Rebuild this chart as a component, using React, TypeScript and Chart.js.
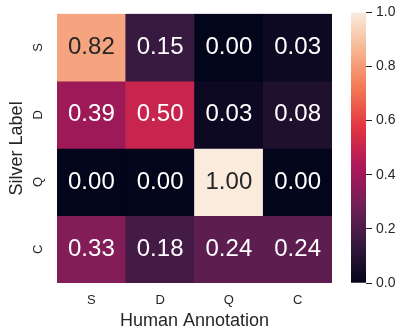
import React, { useEffect, useRef } from "react";
import { Chart, registerables } from "chart.js";

Chart.register(...registerables);

// ---- data ----
const xLabels = ["S", "D", "Q", "C"];
const yLabels = ["S", "D", "Q", "C"];
const rowS = [0.82, 0.15, 0.0, 0.03];
const rowD = [0.39, 0.5, 0.03, 0.08];
const rowQ = [0.0, 0.0, 1.0, 0.0];
const rowC = [0.33, 0.18, 0.24, 0.24];
const rows = [rowS, rowD, rowQ, rowC];
const colorbarTicks = [0, 0.2, 0.4, 0.6, 0.8, 1.0];
const xTitle = "Human Annotation";
const yTitle = "Silver Label";

// rocket colormap stops
const rocketStops: [number, string][] = [
  [0, "#03051a"],
  [1 / 7, "#35193e"],
  [2 / 7, "#701f57"],
  [3 / 7, "#ad1759"],
  [4 / 7, "#e13342"],
  [5 / 7, "#f37651"],
  [6 / 7, "#f6b48f"],
  [1, "#faebdd"],
];

const FONT = "'Liberation Sans', Arial, sans-serif";
const TEXT = "#262626";

function hexToRgb(h: string) {
  const n = parseInt(h.slice(1), 16);
  return [(n >> 16) & 255, (n >> 8) & 255, n & 255];
}

function rocket(v: number): number[] {
  const t = Math.max(0, Math.min(1, v));
  for (let i = 0; i < rocketStops.length - 1; i++) {
    const [p0, c0] = rocketStops[i];
    const [p1, c1] = rocketStops[i + 1];
    if (t <= p1) {
      const f = (t - p0) / (p1 - p0);
      const a = hexToRgb(c0);
      const b = hexToRgb(c1);
      return a.map((x, k) => Math.round(x + (b[k] - x) * f));
    }
  }
  return hexToRgb(rocketStops[rocketStops.length - 1][1]);
}

function rgbStr(c: number[]) {
  return `rgb(${c[0]},${c[1]},${c[2]})`;
}

function luminance(c: number[]) {
  const l = c.map((x) => {
    const s = x / 255;
    return s <= 0.03928 ? s / 12.92 : Math.pow((s + 0.055) / 1.055, 2.4);
  });
  return 0.2126 * l[0] + 0.7152 * l[1] + 0.0722 * l[2];
}

const annotate = {
  id: "annotate",
  afterDatasetsDraw(chart: any) {
    const ctx = chart.ctx;
    ctx.save();
    ctx.font = `24px ${FONT}`;
    ctx.textAlign = "center";
    ctx.textBaseline = "middle";
    chart.data.datasets.forEach((ds: any, di: number) => {
      const meta = chart.getDatasetMeta(di);
      meta.data.forEach((el: any, i: number) => {
        const v = rows[di][i];
        const c = rocket(v);
        ctx.fillStyle = luminance(c) > 0.408 ? TEXT : "#ffffff";
        const p = el.getCenterPoint();
        ctx.fillText(v.toFixed(2), p.x, p.y);
      });
    });
    ctx.restore();
  },
};

export default function App() {
  const mainRef = useRef<HTMLCanvasElement>(null);
  const cbRef = useRef<HTMLCanvasElement>(null);

  useEffect(() => {
    Chart.defaults.font.family = FONT;
    Chart.defaults.color = TEXT;

    const datasets = rows.map((row, r) => ({
      label: yLabels[r],
      data: row.map(() => [r, r + 1]),
      backgroundColor: row.map((v) => rgbStr(rocket(v))),
      borderWidth: 0,
      barPercentage: 1,
      categoryPercentage: 1,
      grouped: false,
    }));

    const main = new Chart(mainRef.current as HTMLCanvasElement, {
      type: "bar",
      data: { labels: xLabels, datasets: datasets as any },
      options: {
        responsive: false,
        devicePixelRatio: 1,
        animation: false,
        layout: { padding: { left: 0, top: 9, right: 8, bottom: 0 } },
        plugins: { legend: { display: false }, tooltip: { enabled: false } },
        scales: {
          x: {
            type: "category",
            grid: { display: false },
            border: { display: false },
            ticks: { padding: 2, font: { size: 13 }, color: TEXT },
            title: {
              display: true,
              text: xTitle,
              font: { size: 18 },
              color: TEXT,
              padding: { top: 0, bottom: 0 },
            },
            afterFit: (s: any) => {
              s.height = 49;
            },
          },
          y: {
            type: "linear",
            min: 0,
            max: 4,
            reverse: true,
            afterBuildTicks: (s: any) => {
              s.ticks = yLabels.map((_, i) => ({ value: i + 0.5 }));
            },
            grid: { display: false },
            border: { display: false },
            ticks: {
              autoSkip: false,
              minRotation: 90,
              maxRotation: 90,
              crossAlign: "center",
              padding: 6,
              font: { size: 13 },
              color: TEXT,
              callback: (_v: any, i: number) => yLabels[i],
            },
            title: {
              display: true,
              text: yTitle,
              font: { size: 18 },
              color: TEXT,
              padding: { top: 6, bottom: 0 },
            },
            afterFit: (s: any) => {
              s.width = 57;
            },
          },
        },
      } as any,
      plugins: [annotate],
    });

    const cb = new Chart(cbRef.current as HTMLCanvasElement, {
      type: "bar",
      data: {
        labels: ["cb"],
        datasets: [
          {
            data: [[0, 1]] as any,
            backgroundColor: (c: any) => {
              const ca = c.chart.chartArea;
              if (!ca) return "#000";
              const g = c.chart.ctx.createLinearGradient(0, ca.bottom, 0, ca.top);
              rocketStops.forEach(([p, col]) => g.addColorStop(p, col));
              return g;
            },
            borderWidth: 0,
            barPercentage: 1,
            categoryPercentage: 1,
          },
        ],
      },
      options: {
        responsive: false,
        devicePixelRatio: 1,
        animation: false,
        layout: { padding: { left: 11, top: 9, right: 0, bottom: 49 } },
        plugins: { legend: { display: false }, tooltip: { enabled: false } },
        scales: {
          x: { display: false },
          y: {
            position: "right",
            min: 0,
            max: 1,
            afterBuildTicks: (s: any) => {
              s.ticks = colorbarTicks.map((v) => ({ value: v }));
            },
            grid: {
              display: true,
              drawOnChartArea: false,
              drawTicks: true,
              tickLength: 6,
              color: TEXT,
              lineWidth: 1,
            },
            border: { display: false },
            ticks: {
              autoSkip: false,
              padding: 4,
              font: { size: 14 },
              color: TEXT,
              callback: (v: any) => Number(v).toFixed(1),
            },
            afterFit: (s: any) => {
              s.width = 30;
            },
          },
        },
      } as any,
    });

    return () => {
      main.destroy();
      cb.destroy();
    };
  }, []);

  return (
    <div
      style={{
        position: "absolute",
        left: 0,
        top: 0,
        width: 396,
        height: 332,
        background: "#ffffff",
        overflow: "hidden",
      }}
    >
      <canvas
        ref={mainRef}
        width={340}
        height={332}
        style={{ position: "absolute", left: 0, top: 0, width: 340, height: 332 }}
      />
      <canvas
        ref={cbRef}
        width={56}
        height={332}
        style={{ position: "absolute", left: 340, top: 0, width: 56, height: 332 }}
      />
    </div>
  );
}
